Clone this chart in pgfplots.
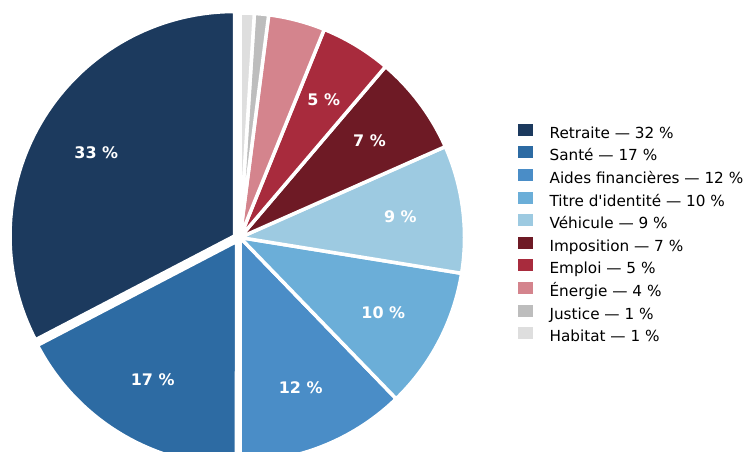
\documentclass[border=0pt]{standalone}
\usepackage{pgfplots}
\pgfplotsset{compat=1.18}
\usepackage{fontspec}
\setmainfont{DejaVu Sans}
\definecolor{cRet}{HTML}{1C3A5E}
\definecolor{cSan}{HTML}{2D6BA3}
\definecolor{cAid}{HTML}{4A8DC7}
\definecolor{cTit}{HTML}{6BAED8}
\definecolor{cVeh}{HTML}{9DCAE1}
\definecolor{cImp}{HTML}{6E1A25}
\definecolor{cEmp}{HTML}{A82B3D}
\definecolor{cEne}{HTML}{D4848D}
\definecolor{cJus}{HTML}{BDBDBD}
\definecolor{cHab}{HTML}{DEDEDE}
\newcommand\wedgeplot[5]{%
  \addplot[fill=#1, draw=white, line width=3.5bp, line join=round, domain=#2:#3, samples=70, variable=\t, forget plot]
    ({#4+\R*cos(\t)},{#5+\R*sin(\t)}) -- (axis cs:#4,#5) -- cycle;}
\begin{document}
\begin{tikzpicture}
% values (%)
\def\vRet{32}\def\vSan{17}\def\vAid{12}\def\vTit{10}\def\vVeh{9}
\def\vImp{7}\def\vEmp{5}\def\vEne{4}\def\vJus{1}\def\vHab{1}
\pgfmathsetmacro\tot{\vRet+\vSan+\vAid+\vTit+\vVeh+\vImp+\vEmp+\vEne+\vJus+\vHab}
\def\R{224.5}
\def\cx{240}\def\cy{214.5}
\def\rx{234.5}\def\ry{216}
\def\sx{236.5}\def\sy{210.5}
\pgfmathsetmacro\aA{90}
\pgfmathsetmacro\aB{\aA+360*\vRet/\tot}
\pgfmathsetmacro\aC{\aB+360*\vSan/\tot}
\pgfmathsetmacro\aD{\aC+360*\vAid/\tot}
\pgfmathsetmacro\aE{\aD+360*\vTit/\tot}
\pgfmathsetmacro\aF{\aE+360*\vVeh/\tot}
\pgfmathsetmacro\aG{\aF+360*\vImp/\tot}
\pgfmathsetmacro\aH{\aG+360*\vEmp/\tot}
\pgfmathsetmacro\aI{\aH+360*\vEne/\tot}
\pgfmathsetmacro\aJ{\aI+360*\vJus/\tot}
\pgfmathsetmacro\aK{\aJ+360*\vHab/\tot}
\pgfmathsetmacro\mA{(\aA+\aB)/2}
\pgfmathsetmacro\mB{(\aB+\aC)/2}
\pgfmathsetmacro\mC{(\aC+\aD)/2}
\pgfmathsetmacro\mD{(\aD+\aE)/2}
\pgfmathsetmacro\mE{(\aE+\aF)/2}
\pgfmathsetmacro\mF{(\aF+\aG)/2}
\pgfmathsetmacro\mG{(\aG+\aH)/2}
\pgfmathsetmacro\ld{0.72*\R}
\begin{axis}[
  scale only axis, width=747bp, height=452bp,
  xmin=0, xmax=747, ymin=0, ymax=452, enlargelimits=false,
  hide axis, clip=true,
  legend cell align=left,
  legend style={at={(0.6934,0.729)}, anchor=north west, draw=none, fill=none,
    inner sep=0pt, row sep=0pt,
    nodes={inner sep=0pt, text height=15.6bp, text depth=7bp, font=\fontsize{15.3}{18}\selectfont},
    /tikz/every odd column/.append style={column sep=17bp}},
]
\addplot[draw=none, forget plot] coordinates {(0,0) (747,452)};
\wedgeplot{cRet}{\aA}{\aB}{\rx}{\ry}
\wedgeplot{cSan}{\aB}{\aC}{\sx}{\sy}
\wedgeplot{cAid}{\aC}{\aD}{\cx}{\cy}
\wedgeplot{cTit}{\aD}{\aE}{\cx}{\cy}
\wedgeplot{cVeh}{\aE}{\aF}{\cx}{\cy}
\wedgeplot{cImp}{\aF}{\aG}{\cx}{\cy}
\wedgeplot{cEmp}{\aG}{\aH}{\cx}{\cy}
\wedgeplot{cEne}{\aH}{\aI}{\cx}{\cy}
\wedgeplot{cJus}{\aI}{\aJ}{\cx}{\cy}
\wedgeplot{cHab}{\aJ}{\aK}{\cx}{\cy}
\begin{scope}[every node/.style={text=white, font=\fontsize{16}{18}\selectfont\bfseries}]
\node[shift={(\mA:\ld bp)}] at (axis cs:\rx,\ry) {33 \%};
\node[shift={(\mB:\ld bp)}] at (axis cs:\sx,\sy) {17 \%};
\node[shift={(\mC:\ld bp)}] at (axis cs:\cx,\cy) {12 \%};
\node[shift={(\mD:\ld bp)}] at (axis cs:\cx,\cy) {10 \%};
\node[shift={(\mE:\ld bp)}] at (axis cs:\cx,\cy) {9 \%};
\node[shift={(\mF:\ld bp)}] at (axis cs:\cx,\cy) {7 \%};
\node[shift={(\mG:\ld bp)}] at (axis cs:\cx,\cy) {5 \%};
\end{scope}
\addlegendimage{legend image code/.code={\fill[cRet] (0bp,-1bp) rectangle (14bp,10bp);}}
\addlegendentry{Retraite — 32 \%}
\addlegendimage{legend image code/.code={\fill[cSan] (0bp,-1bp) rectangle (14bp,10bp);}}
\addlegendentry{Santé — 17 \%}
\addlegendimage{legend image code/.code={\fill[cAid] (0bp,-1bp) rectangle (14bp,10bp);}}
\addlegendentry{Aides financières — 12 \%}
\addlegendimage{legend image code/.code={\fill[cTit] (0bp,-1bp) rectangle (14bp,10bp);}}
\addlegendentry{Titre d\textquotesingle identité — 10 \%}
\addlegendimage{legend image code/.code={\fill[cVeh] (0bp,-1bp) rectangle (14bp,10bp);}}
\addlegendentry{Véhicule — 9 \%}
\addlegendimage{legend image code/.code={\fill[cImp] (0bp,-1bp) rectangle (14bp,10bp);}}
\addlegendentry{Imposition — 7 \%}
\addlegendimage{legend image code/.code={\fill[cEmp] (0bp,-1bp) rectangle (14bp,10bp);}}
\addlegendentry{Emploi — 5 \%}
\addlegendimage{legend image code/.code={\fill[cEne] (0bp,-1bp) rectangle (14bp,10bp);}}
\addlegendentry{Énergie — 4 \%}
\addlegendimage{legend image code/.code={\fill[cJus] (0bp,-1bp) rectangle (14bp,10bp);}}
\addlegendentry{Justice — 1 \%}
\addlegendimage{legend image code/.code={\fill[cHab] (0bp,-1bp) rectangle (14bp,10bp);}}
\addlegendentry{Habitat — 1 \%}
\end{axis}
\end{tikzpicture}
\end{document}
